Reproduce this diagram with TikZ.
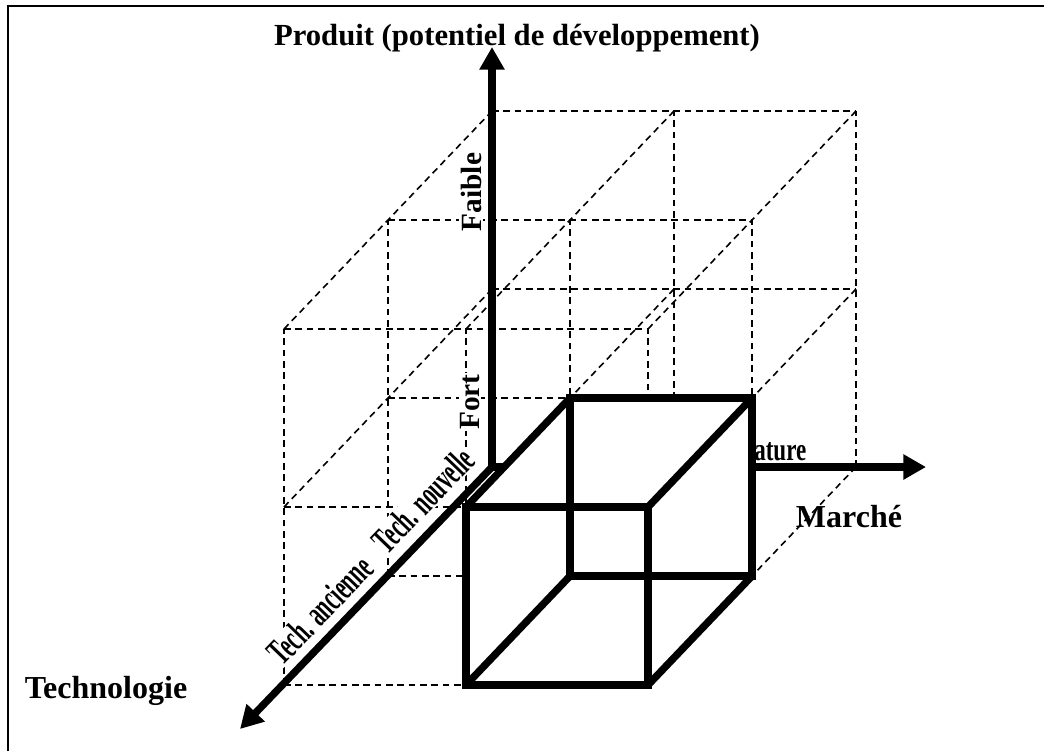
\documentclass[tikz,border=0pt]{standalone}
\usepackage{fontspec}
\setmainfont{Liberation Serif}
\usetikzlibrary{arrows.meta}

\begin{document}
\begin{tikzpicture}[
  x=0.75pt, y=-0.75pt,
  grid/.style={dash pattern=on 5pt off 3.5pt, line width=1.2pt},
  axis/.style={line width=5.5pt, -{Triangle[length=17pt,width=18pt]}},
  edge/.style={line width=5.5pt},
  title/.style={font=\fontsize{23}{27}\selectfont\bfseries, inner sep=0pt},
  axisname/.style={font=\fontsize{24}{28}\selectfont\bfseries, inner sep=0pt},
  tag/.style={font=\fontsize{22}{26}\selectfont\bfseries, fill=white, inner sep=1pt},
  tech/.style={font=\fontsize{28}{32}\selectfont\bfseries, fill=white, inner sep=0.5pt}
]
  \useasboundingbox (0,0) rectangle (1044,751);
  \draw[line width=1.6pt] (8,751) -- (8,6) -- (1044,6);

  \coordinate (O) at (492,467);
  \coordinate (P) at (492,47);
  \coordinate (M) at (926,467);
  \coordinate (T) at (240,729);

  \foreach \k in {0,1,2}{
    \foreach \j in {0,1,2}
      \draw[grid] (492-104*\k,467-178*\j+109*\k) -- ++(364,0);
    \foreach \i in {0,1,2}
      \draw[grid] (492+182*\i-104*\k,467+109*\k) -- ++(0,-356);
  }
  \foreach \i in {0,1,2}
    \foreach \j in {0,1,2}
      \draw[grid] (492+182*\i,467-178*\j) -- ++(-208,218);

  \draw[axis] (O) -- (P);
  \draw[axis] (O) -- (M);
  \node[axisname, anchor=base west] (mature) at (754,460) {\scalebox{0.72}[1]{ature}};

  \coordinate (f1) at (466,685);
  \coordinate (f2) at (466,507);
  \coordinate (f3) at (648,507);
  \coordinate (f4) at (648,685);
  \coordinate (b1) at (570,576);
  \coordinate (b2) at (570,398);
  \coordinate (b3) at (752,398);
  \coordinate (b4) at (752,576);

  \fill[white] (f1) -- (f2) -- (b2) -- (b3) -- (b4) -- (f4) -- cycle;
  \draw[edge] (f1) rectangle (f3);
  \draw[edge] (b1) rectangle (b3);
  \draw[edge] (f1) -- (b1) (f2) -- (b2) (f3) -- (b3) (f4) -- (b4);

  \draw[axis] (O) -- (T);

  \node[title, anchor=base] (produit) at (517,45) {Produit (potentiel de développement)};
  \node[axisname, anchor=base] (marche) at (849,527) {Marché};
  \node[axisname, anchor=base] (techno) at (106,698) {Technologie};
  \node[tag, rotate=90] (faible) at (471,192) {Faible};
  \node[tag, rotate=90] (fort) at (470,402) {Fort};
  \node[tech, rotate=46] (nouvelle) at (423,500) {\scalebox{0.56}[1]{Tech. nouvelle}};
  \node[tech, rotate=46] (ancienne) at (320,610) {\scalebox{0.56}[1]{Tech. ancienne}};
\end{tikzpicture}
\end{document}
